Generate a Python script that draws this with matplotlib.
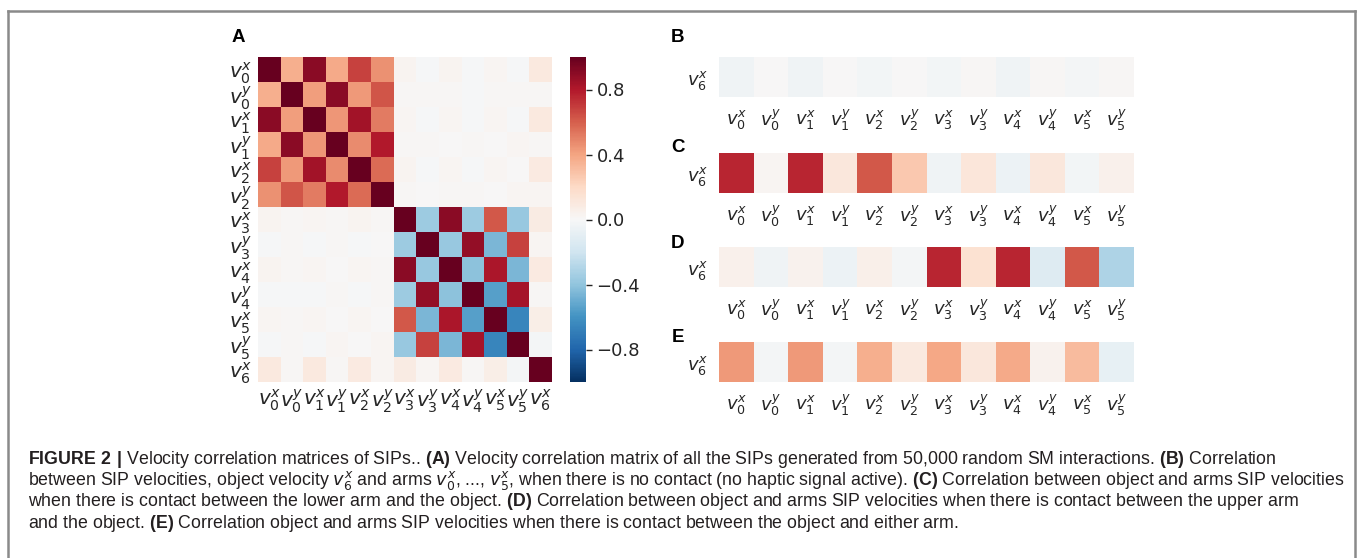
import numpy as np
import matplotlib
matplotlib.use("Agg")
from matplotlib import pyplot as plt
from matplotlib import font_manager
from matplotlib.lines import Line2D

# labels
names = ["v_0^x", "v_0^y", "v_1^x", "v_1^y", "v_2^x", "v_2^y",
         "v_3^x", "v_3^y", "v_4^x", "v_4^y", "v_5^x", "v_5^y", "v_6^x"]
labels_all = ["$" + n + "$" for n in names]
labels_arms = labels_all[:12]
label_obj = labels_all[12]

# A: correlation of all SIP velocities
corr_all = [
    [1.00, 0.36, 0.90, 0.38, 0.68, 0.46, 0.03, -0.01, 0.03, -0.01, 0.02, -0.01, 0.10],
    [0.36, 1.00, 0.42, 0.90, 0.43, 0.63, 0.01, 0.01, 0.01, -0.01, 0.01, 0.01, 0.01],
    [0.90, 0.42, 1.00, 0.44, 0.84, 0.52, 0.02, -0.01, 0.02, -0.01, 0.02, -0.01, 0.10],
    [0.38, 0.90, 0.44, 1.00, 0.47, 0.80, 0.01, 0.01, 0.00, 0.01, 0.00, 0.02, 0.01],
    [0.68, 0.43, 0.84, 0.47, 1.00, 0.57, 0.03, -0.01, 0.02, -0.01, 0.02, 0.00, 0.09],
    [0.46, 0.63, 0.52, 0.80, 0.57, 1.00, 0.01, 0.00, 0.01, 0.01, 0.00, 0.02, 0.02],
    [0.03, 0.01, 0.02, 0.01, 0.03, 0.01, 1.00, -0.36, 0.90, -0.36, 0.62, -0.38, 0.08],
    [-0.01, 0.01, -0.01, 0.01, -0.01, 0.00, -0.36, 1.00, -0.38, 0.88, -0.46, 0.68, 0.02],
    [0.03, 0.01, 0.02, 0.00, 0.02, 0.01, 0.90, -0.38, 1.00, -0.41, 0.82, -0.46, 0.09],
    [-0.01, -0.01, -0.01, 0.01, -0.01, 0.01, -0.36, 0.88, -0.41, 1.00, -0.55, 0.83, 0.01],
    [0.02, 0.01, 0.02, 0.00, 0.02, 0.00, 0.62, -0.46, 0.82, -0.55, 1.00, -0.66, 0.07],
    [-0.01, 0.01, -0.01, 0.02, 0.00, 0.02, -0.38, 0.68, -0.46, 0.83, -0.66, 1.00, -0.02],
    [0.10, 0.01, 0.10, 0.01, 0.09, 0.02, 0.08, 0.02, 0.09, 0.01, 0.07, -0.02, 1.00],
]

# B-E: object velocity v6x against the arms
corr_nocontact = [-0.04, 0.00, -0.04, 0.00, -0.03, 0.00, -0.03, 0.01, -0.04, 0.01, -0.02, 0.01]
corr_lower = [0.76, 0.02, 0.76, 0.11, 0.62, 0.27, -0.04, 0.12, -0.06, 0.11, -0.03, 0.05]
corr_upper = [0.05, -0.04, 0.04, -0.06, 0.06, -0.02, 0.76, 0.15, 0.76, -0.13, 0.62, -0.31]
corr_either = [0.43, -0.02, 0.43, -0.02, 0.36, 0.10, 0.39, 0.11, 0.38, 0.04, 0.32, -0.08]

panel_rows = [("B", corr_nocontact), ("C", corr_lower), ("D", corr_upper), ("E", corr_either)]

caption = [
    r"$\mathbf{FIGURE\ 2\ |}$ Velocity correlation matrices of SIPs.. $\mathbf{(A)}$ Velocity correlation matrix of all the SIPs generated from 50,000 random SM interactions. $\mathbf{(B)}$ Correlation",
    r"between SIP velocities, object velocity $v_6^x$ and arms $v_0^x$, ..., $v_5^x$, when there is no contact (no haptic signal active). $\mathbf{(C)}$ Correlation between object and arms SIP velocities",
    r"when there is contact between the lower arm and the object. $\mathbf{(D)}$ Correlation between object and arms SIP velocities when there is contact between the upper arm",
    r"and the object. $\mathbf{(E)}$ Correlation object and arms SIP velocities when there is contact between the object and either arm.",
]

avail = set(f.name for f in font_manager.fontManager.ttflist)
cap_font = "Liberation Sans Narrow" if "Liberation Sans Narrow" in avail else "Liberation Sans"
cap_size = 15.4 if cap_font == "Liberation Sans Narrow" else 12.8

plt.rcParams["mathtext.fontset"] = "custom"
plt.rcParams["mathtext.rm"] = "DejaVu Sans"
plt.rcParams["mathtext.it"] = "DejaVu Sans:italic"
plt.rcParams["mathtext.bf"] = cap_font + ":bold"

W, H = 1358, 558
fig = plt.figure(figsize=(W / 100, H / 100), dpi=100)
txt_col = "#262626"

def ax_px(x0, y0, x1, y1):
    return fig.add_axes([x0 / W, 1 - y1 / H, (x1 - x0) / W, (y1 - y0) / H])

cmap = plt.get_cmap("RdBu_r")

# panel A
axA = ax_px(258, 57, 552, 382)
mat = np.array(corr_all)
m = axA.pcolormesh(mat, cmap=cmap, vmin=-1, vmax=1)
axA.set_xlim(0, 13)
axA.set_ylim(13, 0)
axA.set_xticks(np.arange(13) + 0.5)
axA.set_yticks(np.arange(13) + 0.5)
axA.set_xticklabels(labels_all, fontsize=14.5, color=txt_col)
axA.set_yticklabels(labels_all, fontsize=14.5, color=txt_col, rotation=0)
axA.tick_params(length=0, pad=4)
for s in axA.spines.values():
    s.set_visible(False)

cax = ax_px(570, 57, 586, 382)
cb = fig.colorbar(m, cax=cax, ticks=[-0.8, -0.4, 0.0, 0.4, 0.8])
cb.outline.set_visible(False)
cb.ax.tick_params(labelsize=13, colors=txt_col, length=4, width=1)
cb.ax.set_yticklabels(["\u22120.8", "\u22120.4", "0.0", "0.4", "0.8"])

fig.text(238 / W, 1 - 37 / H, "A", fontsize=13.5, fontweight="bold",
         family="Liberation Sans", ha="center", va="center")

# panels B-E
tops = [57, 153, 247, 342]
letter_y = [37, 147, 243, 338]
for (letter, vals), top, ly in zip(panel_rows, tops, letter_y):
    ax = ax_px(719, top, 1134, top + 40)
    ax.pcolormesh(np.array([vals]), cmap=cmap, vmin=-1, vmax=1)
    ax.set_xlim(0, 12)
    ax.set_ylim(1, 0)
    ax.set_xticks(np.arange(12) + 0.5)
    ax.set_yticks([0.5])
    ax.set_xticklabels(labels_arms, fontsize=13, color=txt_col)
    ax.set_yticklabels([label_obj], fontsize=13, color=txt_col, rotation=0)
    ax.tick_params(length=0, pad=8)
    for s in ax.spines.values():
        s.set_visible(False)
    fig.text(678 / W, 1 - ly / H, letter, fontsize=13.5, fontweight="bold",
             family="Liberation Sans", ha="center", va="center")

# caption
for i, line in enumerate(caption):
    fig.text(28 / W, 1 - (460 + 21 * i) / H, line, fontsize=cap_size, family=cap_font,
             color="#231f20", ha="left", va="center")

# frame
gray = "#8a8a8a"
fig.add_artist(Line2D([7.5 / W, 7.5 / W], [0, 1 - 11 / H], color=gray, lw=1.8))
fig.add_artist(Line2D([7.5 / W, 1355 / W], [1 - 11 / H, 1 - 11 / H], color=gray, lw=1.8))
fig.add_artist(Line2D([1355 / W, 1355 / W], [0, 1 - 11 / H], color=gray, lw=1.8))

fig.savefig("out.png", dpi=100)
